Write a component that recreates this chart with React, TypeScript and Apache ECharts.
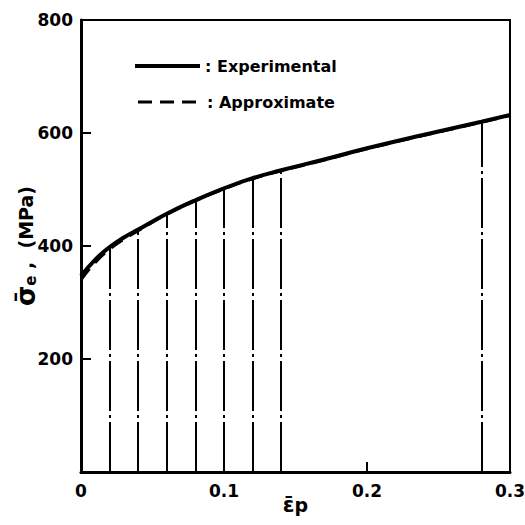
import React, { useEffect, useRef } from "react";
import * as echarts from "echarts";

const strain = [0, 0.01, 0.02, 0.03, 0.04, 0.06, 0.08, 0.1, 0.12, 0.14, 0.17, 0.2, 0.24, 0.28, 0.3];
const expStress = [347, 376, 398, 415, 429, 457, 481, 502, 520, 534, 553, 573, 597, 620, 632];
const approxStress = [340, 371, 394, 412, 427, 456, 480, 501, 519, 533, 552, 572, 596, 619, 631];
const dropStrains = [0.02, 0.04, 0.06, 0.08, 0.1, 0.12, 0.14, 0.28];

const xTicks = ["0", "0.1", "0.2", "0.3"];
const yTicks = ["", "200", "400", "600", "800"];
const legendNames = ["Experimental", "Approximate"];

export default function App() {
  const ref = useRef<HTMLDivElement>(null);
  useEffect(() => {
    if (!ref.current) return;
    const chart = echarts.init(ref.current, null, { renderer: "svg" });
    const font = "DejaVu Sans";
    const expData = strain.map((x, i) => [x, expStress[i]]);
    const apData = strain.map((x, i) => [x, approxStress[i]]);
    const drops = dropStrains.map((x) => {
      const i = strain.indexOf(x);
      return [
        { coord: [x, 0], symbol: "none" },
        { coord: [x, expStress[i]], symbol: "none" },
      ];
    });
    chart.setOption({
      animation: false,
      backgroundColor: "#fff",
      grid: {
        left: 81,
        right: 15,
        top: 20,
        bottom: 53,
        show: true,
        borderColor: "#000",
        borderWidth: 2,
        outerBoundsMode: "none",
        containLabel: false,
      },
      graphic: [
        { type: "line", shape: { x1: 135, y1: 66, x2: 200, y2: 66 }, style: { stroke: "#000", lineWidth: 4 } },
        { type: "text", x: 205, y: 66, style: { text: ": " + legendNames[0], font: "bold 16px 'DejaVu Sans'", fill: "#000", verticalAlign: "middle" } },
        { type: "line", shape: { x1: 138, y1: 102, x2: 198, y2: 102 }, style: { stroke: "#000", lineWidth: 3, lineDash: [14, 8] } },
        { type: "text", x: 207, y: 102, style: { text: ": " + legendNames[1], font: "bold 16px 'DejaVu Sans'", fill: "#000", verticalAlign: "middle" } },
      ],
      xAxis: {
        type: "value",
        min: 0,
        max: 0.3,
        interval: 0.1,
        splitLine: { show: false },
        axisLine: { lineStyle: { color: "#000", width: 3 } },
        axisTick: { inside: true, length: 10, lineStyle: { color: "#000", width: 2 } },
        axisLabel: {
          formatter: (v: number) => xTicks[Math.round(v * 10)],
          fontFamily: font,
          fontSize: 17,
          fontWeight: "bold",
          color: "#000",
          margin: 10,
        },
        name: "{a|ε\u0304}{b|p}",
        nameLocation: "middle",
        nameGap: 22,
        nameMoveOverlap: false,
        nameTextStyle: {
          lineHeight: 22,
          rich: {
            a: { fontFamily: font, fontSize: 21, fontWeight: "bold", color: "#000", lineHeight: 22 },
            b: { fontFamily: font, fontSize: 19, fontWeight: "bold", color: "#000", lineHeight: 22 },
          },
        },
      },
      yAxis: {
        type: "value",
        min: 0,
        max: 800,
        interval: 200,
        splitLine: { show: false },
        axisLine: { show: true, lineStyle: { color: "#000", width: 3 } },
        axisTick: { show: true, inside: true, length: 10, lineStyle: { color: "#000", width: 2 } },
        axisLabel: {
          formatter: (v: number) => yTicks[Math.round(v / 200)],
          fontFamily: font,
          fontSize: 17,
          fontWeight: "bold",
          color: "#000",
          margin: 8,
        },
        name: "{a|σ\u0304}{b|e}{c| ,  (MPa)}",
        nameLocation: "middle",
        nameRotate: 90,
        nameGap: 42,
        nameMoveOverlap: false,
        nameTextStyle: {
          rich: {
            a: { fontFamily: font, fontSize: 26, fontWeight: "bold", color: "#000" },
            b: { fontFamily: font, fontSize: 15, fontWeight: "bold", color: "#000", padding: [10, 0, 0, 0] },
            c: { fontFamily: font, fontSize: 19, fontWeight: "bold", color: "#000" },
          },
        },
      },
      series: [
        {
          name: "Experimental",
          type: "line",
          data: expData,
          smooth: true,
          symbol: "none",
          lineStyle: { color: "#000", width: 4 },
          itemStyle: { color: "#000" },
          z: 3,
          markLine: {
            silent: true,
            symbol: ["none", "none"],
            label: { show: false },
            lineStyle: { color: "#000", width: 2, type: [50, 4, 3, 4] },
            data: drops,
          },
        },
        {
          name: "Approximate",
          type: "line",
          data: apData,
          smooth: true,
          symbol: "none",
          lineStyle: { color: "#000", width: 3, type: [14, 8] },
          itemStyle: { color: "#000" },
          z: 2,
        },
      ],
    });
    return () => chart.dispose();
  }, []);
  return <div ref={ref} style={{ width: 525, height: 525, position: "absolute", left: 0, top: 0 }} />;
}
